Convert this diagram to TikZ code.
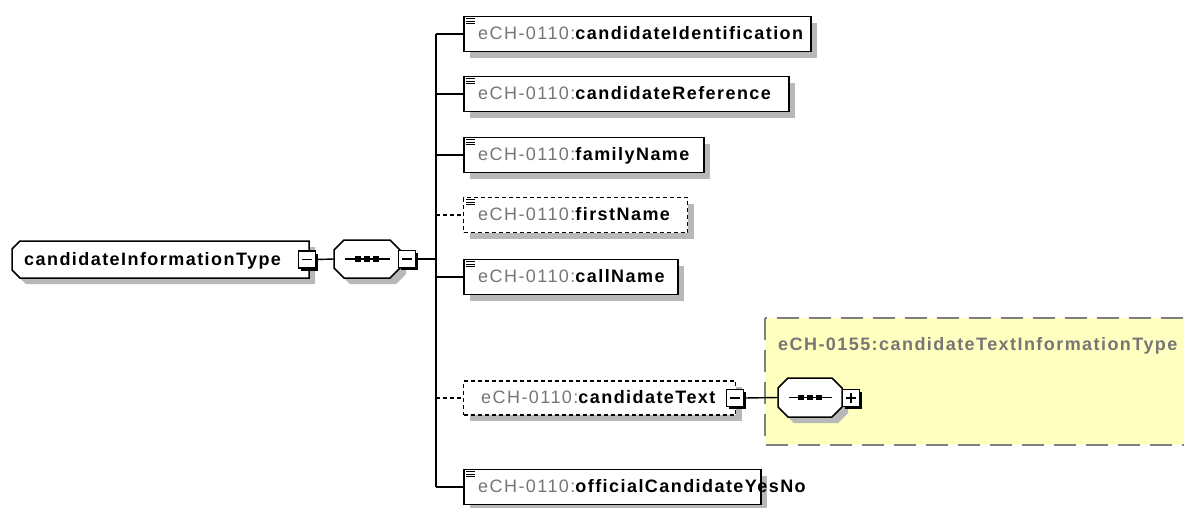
\documentclass[tikz,border=0pt]{standalone}
\usepackage{fontspec}
\setmainfont{Liberation Sans}
\newfontfamily\labfont[LetterSpace=8]{Liberation Sans}
\usetikzlibrary{calc,shadows}
\definecolor{pfxgrey}{RGB}{118,118,118}
\definecolor{shadowgrey}{RGB}{184,184,184}
\definecolor{ylwfill}{RGB}{255,255,192}
\definecolor{ylwborder}{RGB}{128,128,128}
\tikzset{
  shd/.style={drop shadow={shadow xshift=6pt,shadow yshift=-6pt,fill=shadowgrey,opacity=1}},
  elembox/.style={draw=black,line width=1.6pt,fill=white,shd,inner sep=0,anchor=west,minimum height=35pt},
  optbox/.style={elembox,line width=1.4pt,dash pattern=on 4pt off 3pt},
  conn/.style={line width=1.4pt,draw=black},
  optconn/.style={conn,dash pattern=on 4pt off 3pt},
  btn/.style={draw=black,line width=1.3pt,fill=white,minimum size=17pt,inner sep=0,
    drop shadow={shadow xshift=2.5pt,shadow yshift=-2.5pt,fill=black,opacity=1}},
  refbox/.style={inner sep=0,outer sep=0},
  shapeline/.style={draw=black,line width=1.5pt,fill=white},
  shapeshadow/.style={fill=shadowgrey},
  lbl/.style={anchor=base west,inner sep=0,font=\labfont\fontsize{18}{21}\selectfont},
  boldlbl/.style={lbl,font=\labfont\bfseries\fontsize{18}{21}\selectfont},
  ylwtitle/.style={lbl,text=pfxgrey,font=\labfont\bfseries\fontsize{18}{21}\selectfont},
  icon/.style={line width=1.1pt,draw=black},
  ylwbox/.style={fill=ylwfill,draw=ylwborder,line width=1.2pt,dash pattern=on 22pt off 10pt}
}
\newcommand{\pfxname}[2]{\textcolor{pfxgrey}{#1}\textbf{#2}}
\newcommand{\eqicon}[1]{%
  \foreach \dy in {3,5.5,8} {\draw[icon] ($(#1.north west)+(3,\dy)$) -- ++(8.5,0);}}
\newcommand{\minusmark}[1]{\draw[icon] ($(#1.center)-(5,0)$) -- ++(10,0);}
\newcommand{\plusmark}[1]{\draw[icon] ($(#1.center)-(5,0)$) -- ++(10,0);
  \draw[icon] ($(#1.center)-(0,5)$) -- ++(0,10);}
% full octagon path: cx cy halfwidth halfheight chamfer
\newcommand{\octpath}[5]{({#1-#3},{#2-#4+#5}) -- ({#1-#3+#5},{#2-#4}) -- ({#1+#3-#5},{#2-#4}) -- ({#1+#3},{#2-#4+#5}) -- ({#1+#3},{#2+#4-#5}) -- ({#1+#3-#5},{#2+#4}) -- ({#1-#3+#5},{#2+#4}) -- ({#1-#3},{#2+#4-#5}) -- cycle}
% left-chamfered path
\newcommand{\lchpath}[5]{({#1-#3},{#2-#4+#5}) -- ({#1-#3+#5},{#2-#4}) -- ({#1+#3},{#2-#4}) -- ({#1+#3},{#2+#4}) -- ({#1-#3+#5},{#2+#4}) -- ({#1-#3},{#2+#4-#5}) -- cycle}
\newcommand{\seqdots}[1]{%
  \draw[line width=1.2pt] ($(#1.west)+(11,0)$) -- ($(#1.east)-(10,0)$);
  \foreach \dx in {-9,0,9} {\fill ($(#1.center)+(\dx,0)$) ++(-2.6,-2.6) rectangle ++(5.2,5.2);}}
\begin{document}
\begin{tikzpicture}[x=1pt,y=-1pt]
\useasboundingbox (0,0) rectangle (1184,507);
\clip (0,0) rectangle (1184,507);
% yellow complex type box
\draw[ylwbox] (765,318) rectangle (1215,445);
\node[ylwtitle] (ytitle) at (778,350) {eCH-0155:candidateTextInformationType};
% bus coordinates
\coordinate (busr) at (436,259);
\coordinate (bus1) at (436,34);
\coordinate (bus2) at (436,94);
\coordinate (bus3) at (436,155);
\coordinate (bus4) at (436,215);
\coordinate (bus5) at (436,277);
\coordinate (bus6) at (436,398);
\coordinate (bus7) at (436,487);
% root
\fill[shapeshadow,shift={(6,6)}] \lchpath{160.5}{259.5}{148.5}{18.5}{8};
\draw[shapeline] \lchpath{160.5}{259.5}{148.5}{18.5}{8};
\node[refbox,minimum width=297pt,minimum height=37pt] (root) at (160.5,259.5) {};
\node[boldlbl] (roottext) at ($(root.west)+(12,5.5)$) {candidateInformationType};
\node[btn] (m0) at (307,259.5) {};
\minusmark{m0}
% sequence
\fill[shapeshadow,shift={(6,6)}] \octpath{367}{259}{33}{19}{10};
\draw[shapeline] \octpath{367}{259}{33}{19}{10};
\node[refbox,minimum width=66pt,minimum height=38pt] (seq) at (367,259) {};
\seqdots{seq}
\node[btn] (m1) at (407,259) {};
\minusmark{m1}
\draw[conn] (m0.east) -- (seq.west);
\draw[conn] (m1.east) -- (busr);
\draw[conn] (bus1) -- (bus7);
% children
\node[elembox,minimum width=347pt] (b1) at (463,34) {};
\node[elembox,minimum width=325pt] (b2) at (463,94) {};
\node[elembox,minimum width=240pt] (b3) at (463,155) {};
\node[optbox,minimum width=224pt] (b4) at (463,215) {};
\node[elembox,minimum width=214pt] (b5) at (463,277) {};
\node[optbox,minimum width=272pt,minimum height=34pt] (b6) at (463,398) {};
\node[elembox,minimum width=297pt] (b7) at (463,487) {};
\draw[conn] (bus1) -- (b1.west);
\draw[conn] (bus2) -- (b2.west);
\draw[conn] (bus3) -- (b3.west);
\draw[optconn] (bus4) -- (b4.west);
\draw[conn] (bus5) -- (b5.west);
\draw[optconn] (bus6) -- (b6.west);
\draw[conn] (bus7) -- (b7.west);
\eqicon{b1}\eqicon{b2}\eqicon{b3}\eqicon{b4}\eqicon{b5}\eqicon{b7}
\node[lbl] (t1) at ($(b1.west)+(15,5.5)$) {\pfxname{eCH-0110:}{candidateIdentification}};
\node[lbl] (t2) at ($(b2.west)+(15,5.5)$) {\pfxname{eCH-0110:}{candidateReference}};
\node[lbl] (t3) at ($(b3.west)+(15,5.5)$) {\pfxname{eCH-0110:}{familyName}};
\node[lbl] (t4) at ($(b4.west)+(15,5.5)$) {\pfxname{eCH-0110:}{firstName}};
\node[lbl] (t5) at ($(b5.west)+(15,5.5)$) {\pfxname{eCH-0110:}{callName}};
\node[lbl] (t6) at ($(b6.west)+(18,5.5)$) {\pfxname{eCH-0110:}{candidateText}};
\node[lbl] (t7) at ($(b7.west)+(15,5.5)$) {\pfxname{eCH-0110:}{officialCandidateYesNo}};
% candidateText expansion
\node[btn] (m2) at (735,398) {};
\minusmark{m2}
\fill[shapeshadow,shift={(6,6)}] \octpath{810}{397.5}{32}{19.5}{10};
\draw[shapeline] \octpath{810}{397.5}{32}{19.5}{10};
\node[refbox,minimum width=64pt,minimum height=39pt] (seq2) at (810,397.5) {};
\seqdots{seq2}
\node[btn] (p1) at (851,398) {};
\plusmark{p1}
\draw[conn] (m2.east) -- (seq2.west);
\end{tikzpicture}
\end{document}
